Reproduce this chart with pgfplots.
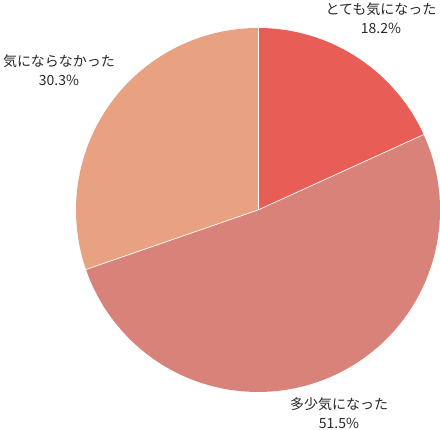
\documentclass[border=0pt]{standalone}
\usepackage{pgfplots}
\usepackage{pgfplotstable}
\pgfplotsset{compat=1.18}
\usepackage{fontspec}
\setmainfont{Noto Sans CJK JP}
\definecolor{cA}{RGB}{232,94,86}
\definecolor{cB}{RGB}{216,130,122}
\definecolor{cC}{RGB}{232,162,130}
\definecolor{txt}{RGB}{40,40,40}

\pgfplotstableread{
label share
A 18.2
B 51.5
C 30.3
}\pietable

\pgfplotstablegetelem{0}{share}\of\pietable \let\va\pgfplotsretval
\pgfplotstablegetelem{1}{share}\of\pietable \let\vb\pgfplotsretval
\pgfplotstablegetelem{2}{share}\of\pietable \let\vc\pgfplotsretval
% clockwise from twelve o'clock
\pgfmathsetmacro{\aA}{90}
\pgfmathsetmacro{\aB}{90-3.6*\va}
\pgfmathsetmacro{\aC}{\aB-3.6*\vb}
\pgfmathsetmacro{\aD}{\aC-3.6*\vc}

\begin{document}
\begin{tikzpicture}
\begin{axis}[
    x=1pt, y=1pt,
    xmin=0, xmax=440, ymin=0, ymax=430,
    hide axis, clip=false,
]
\addplot[draw=none] coordinates {(0,0) (440,430)};
\coordinate (ll) at (axis cs:0,0);
\coordinate (ur) at (axis cs:440,430);
\fill[cA] (axis cs:258,220) -- +(\aA:182pt) arc[start angle=\aA, end angle=\aB, radius=182pt] -- cycle;
\fill[cB] (axis cs:258,220) -- +(\aB:182pt) arc[start angle=\aB, end angle=\aC, radius=182pt] -- cycle;
\fill[cC] (axis cs:258,220) -- +(\aC:182pt) arc[start angle=\aC, end angle=\aD, radius=182pt] -- cycle;
\draw[white, line width=0.7pt] (axis cs:258,220) -- +(\aA:182pt);
\draw[white, line width=0.7pt] (axis cs:258,220) -- +(\aB:182pt);
\draw[white, line width=0.7pt] (axis cs:258,220) -- +(\aC:182pt);

\node[txt, align=center, font=\fontsize{14}{19}\selectfont] at (axis cs:381,412) {とても気になった\\\va\%};
\node[txt, align=center, font=\fontsize{14}{19}\selectfont] at (axis cs:339,17) {多少気になった\\\vb\%};
\node[txt, align=center, font=\fontsize{14}{19}\selectfont] at (axis cs:59,360) {気にならなかった\\\vc\%};
\end{axis}
\pgfresetboundingbox
\path (ll) rectangle (ur);
\end{tikzpicture}
\end{document}
